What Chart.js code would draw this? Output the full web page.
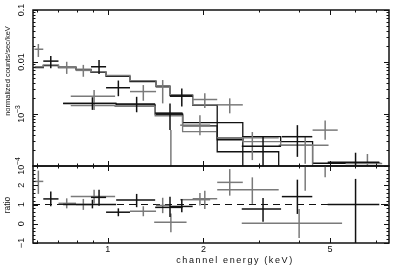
<!DOCTYPE html>
<html>
<head>
<meta charset="utf-8">
<script src="https://cdn.jsdelivr.net/npm/chart.js@4.4.0/dist/chart.umd.min.js"></script>
<style>
  html, body { margin: 0; padding: 0; background: #fff; }
  #wrap { position: relative; width: 399px; height: 271px; }
  #wrap canvas { position: absolute; left: 0; top: 0; }
</style>
</head>
<body>
<div id="wrap">
  <canvas id="spec" width="399" height="271"></canvas>
  <canvas id="ratio" width="399" height="271"></canvas>
</div>
<script>
// axis ticks and labels
const energyTicks = [1, 2, 5];
const energyMinor = [0.6, 0.7, 0.8, 0.9, 3, 4, 6, 7];
const rateTicks = [0.1, 0.01, 1e-3, 1e-4];
const rateTickText = ['0.1', '0.01', '10', '10'];
const rateTickSup = ['', '', '\u22123', '\u22124'];
const ratioTicks = [-1, 0, 1, 2];
const ratioTickText = ['\u22121', '0', '1', '2'];

// dark data group
const blkE      = [0.662, 0.895, 0.939, 1.08, 1.233, 1.57, 1.71, 3.08, 3.95, 6.02];
const blkELo    = [0.627, 0.724, 0.886, 0.988, 1.063, 1.41, 1.57, 2.64, 3.53, 4.92];
const blkEHi    = [0.70, 1.063, 0.988, 1.175, 1.41, 1.72, 1.85, 3.51, 4.4, 7.15];
const blkRate   = [0.0104, 0.0016, 0.0081, 0.0032, 0.00156, 0.00104, 0.0022, 0.00024, 0.000366, 0.000118];
const blkRateLo = [0.0076, 0.0012, 0.0059, 0.0022, 0.00108, 0.00049, 0.0014, 0.00009, 0.00015, 0.00005];
const blkRateHi = [0.013, 0.0021, 0.0109, 0.0044, 0.00214, 0.0016, 0.0031, 0.00036, 0.00061, 0.00018];
const blkRatio   = [1.29, 1.0, 1.37, 0.6, 1.24, 0.85, 0.9, 0.77, 1.41, 1.0];
const blkRatioLo = [0.91, 0.8, 0.94, 0.39, 0.86, 0.35, 0.6, 0.11, 0.51, -1.5];
const blkRatioHi = [1.67, 1.25, 1.77, 0.8, 1.55, 1.4, 1.29, 1.34, 2.29, 2.33];

// grey data group
const gryE      = [0.605, 0.743, 0.838, 0.906, 1.294, 1.489, 1.58, 1.95, 2.02, 2.42, 2.85, 4.0, 4.18, 4.83, 6.56];
const gryELo    = [0.588, 0.70, 0.795, 0.765, 1.175, 1.419, 1.40, 1.69, 1.85, 2.21, 2.21, 2.64, 3.45, 4.41, 5.6];
const gryEHi    = [0.627, 0.795, 0.886, 1.055, 1.419, 1.57, 1.77, 2.10, 2.21, 2.66, 3.45, 5.46, 4.95, 5.29, 7.3];
const gryRate   = [0.0176, 0.0079, 0.0069, 0.0022, 0.0027, 0.0033, 0.00007, 0.00061, 0.0019, 0.0015, 0.00035, 0.000008, 0.00025, 0.00049, 0.000112];
const gryRateLo = [0.0125, 0.0059, 0.0052, 0.0012, 0.0018, 0.0016, 0.000001, 0.00039, 0.0013, 0.00103, 0.00013, 0.000001, 0.00011, 0.00032, 0.00005];
const gryRateHi = [0.0222, 0.0101, 0.0088, 0.0029, 0.0036, 0.0045, 0.00049, 0.00095, 0.0025, 0.002, 0.00045, 0.00002, 0.000366, 0.00075, 0.00017];
const gryRatio   = [2.2, 1.06, 1.0, 1.42, 0.65, 0.95, 0.08, 1.25, 1.3, 2.15, 1.76, 0.03, 4.5, 5.5, null];
const gryRatioLo = [1.55, 0.80, 0.72, 1.05, 0.39, 0.55, -0.44, 0.95, 0.77, 1.46, 1.03, -0.74, 1.72, 2.41, null];
const gryRatioHi = [2.76, 1.32, 1.29, 1.77, 0.91, 1.35, 0.53, 1.6, 1.72, 2.84, 2.41, 0.76, 7, 8, null];

// folded models (bin edges, value per bin)
const mod1Edges = [0.588, 0.627, 0.70, 0.795, 0.886, 0.988, 1.175, 1.419, 1.57, 1.85, 2.21, 3.45, 7.4];
const mod1Vals  = [0.0078, 0.0085, 0.0078, 0.0071, 0.0063, 0.0053, 0.0042, 0.00335, 0.00225, 0.00149, 0.000188, 0.000001];
const mod2Edges = [0.588, 0.627, 0.70, 0.795, 0.886, 0.988, 1.175, 1.419, 1.57, 1.85, 2.21];
const mod2Vals  = [0.0081, 0.0088, 0.0081, 0.0073, 0.0065, 0.0055, 0.0044, 0.0035, 0.00235, 0.00152];
const mod3Edges = [0.724, 1.063, 1.41, 1.72, 2.21, 2.66, 3.5, 4.41, 7.2];
const mod3Vals  = [0.0016, 0.0015, 0.001, 0.00059, 0.00032, 0.000366, 0.000293, 0.000113];
const mod4Edges = [0.765, 1.055, 1.41, 1.72, 2.21, 2.66, 3.5, 4.41, 7.2];
const mod4Vals  = [0.00145, 0.0014, 0.00092, 0.00046, 0.00034, 0.000293, 0.000253, 0.0001];
const mod5Edges = [1.41, 1.72, 2.66, 3.0];
const mod5Vals  = [0.00096, 0.00068, 0.000001];

const ratioRef = 1;

const X_MIN = 0.582, X_MAX = 7.67;
const FONT = '"Liberation Sans", Arial, Helvetica, sans-serif';
const BLACK = '#111', GREY = '#7a7a7a';

function line(ctx, x1, y1, x2, y2) {
    ctx.beginPath();
    ctx.moveTo(x1, y1);
    ctx.lineTo(x2, y2);
    ctx.stroke();
}

function stepSet(edges, vals, color) {
    const pts = vals.map((v, i) => ({ x: edges[i], y: v }));
    pts.push({ x: edges[edges.length - 1], y: vals[vals.length - 1] });
    return { data: pts, showLine: true, stepped: true, borderColor: color, borderWidth: 1.3, pointRadius: 0 };
}

function crossSet(e, eLo, eHi, v, vLo, vHi, color) {
    return {
        data: e.map((x, i) => ({ x: x, y: v[i] })),
        xLo: eLo, xHi: eHi, yLo: vLo, yHi: vHi,
        borderColor: color, pointRadius: 0, showLine: false
    };
}

// crosses drawn through the chart scales
const errorBars = {
    id: 'errorBars',
    afterDatasetsDraw(chart) {
        const { ctx, chartArea: a, scales: { x, y } } = chart;
        ctx.save();
        ctx.beginPath();
        ctx.rect(a.left, a.top, a.right - a.left, a.bottom - a.top);
        ctx.clip();
        chart.data.datasets.forEach(ds => {
            if (!ds.xLo) return;
            ctx.strokeStyle = ds.borderColor;
            ctx.lineWidth = 1.5;
            ds.data.forEach((p, i) => {
                if (p.y == null) return;
                const px = x.getPixelForValue(p.x), py = y.getPixelForValue(p.y);
                line(ctx, x.getPixelForValue(ds.xLo[i]), py, x.getPixelForValue(ds.xHi[i]), py);
                line(ctx, px, y.getPixelForValue(ds.yLo[i]), px, y.getPixelForValue(ds.yHi[i]));
            });
        });
        ctx.restore();
    }
};

function vText(ctx, text, x, y, size, sup) {
    ctx.save();
    ctx.translate(x, y);
    ctx.rotate(-Math.PI / 2);
    ctx.textBaseline = 'middle';
    ctx.textAlign = 'left';
    ctx.font = size + 'px ' + FONT;
    const w1 = ctx.measureText(text).width;
    let w2 = 0;
    if (sup) {
        ctx.font = (size * 0.75) + 'px ' + FONT;
        w2 = ctx.measureText(sup).width;
    }
    const x0 = -(w1 + w2) / 2;
    ctx.font = size + 'px ' + FONT;
    ctx.fillText(text, x0, 0);
    if (sup) {
        ctx.font = (size * 0.75) + 'px ' + FONT;
        ctx.fillText(sup, x0 + w1, -size * 0.45);
    }
    ctx.restore();
}

// box, inward ticks and texts
const frame = {
    id: 'frame',
    afterDraw(chart, args, o) {
        const { ctx, chartArea: a, scales: { x, y } } = chart;
        ctx.save();
        ctx.strokeStyle = BLACK;
        ctx.fillStyle = BLACK;
        ctx.lineWidth = 1.5;
        ctx.strokeRect(a.left, a.top, a.right - a.left, a.bottom - a.top);
        ctx.lineWidth = 1;
        const xt = (list, len) => list.forEach(v => {
            const px = Math.round(x.getPixelForValue(v)) + 0.5;
            line(ctx, px, a.top, px, a.top + len);
            line(ctx, px, a.bottom, px, a.bottom - len);
        });
        const yt = (list, len) => list.forEach(v => {
            const py = Math.round(y.getPixelForValue(v)) + 0.5;
            line(ctx, a.left, py, a.left + len, py);
            line(ctx, a.right, py, a.right - len, py);
        });
        xt(energyTicks, 5);
        xt(energyMinor, 2.5);
        yt(o.yMajor, 5);
        yt(o.yMinor, 2.5);
        o.yText.forEach((t, i) => {
            vText(ctx, t, 22, y.getPixelForValue(o.yMajor[i]), 9, o.ySup ? o.ySup[i] : '');
        });
        vText(ctx, o.title, 8, o.titleY, o.titleSize, '');
        if (o.xLabels) {
            ctx.font = '9px ' + FONT;
            ctx.textAlign = 'center';
            ctx.textBaseline = 'middle';
            energyTicks.forEach(v => ctx.fillText(String(v), x.getPixelForValue(v), 250));
            ctx.letterSpacing = '1.6px';
            ctx.fillText('channel energy (keV)', 235, 261);
        }
        ctx.restore();
    }
};

const rateMinor = [];
[1e-4, 1e-3, 1e-2].forEach(d => { for (let k = 2; k <= 9; k++) rateMinor.push(d * k); });
const ratioMinor = [];
for (let k = -5; k <= 15; k++) ratioMinor.push(k / 5);

new Chart(document.getElementById('spec'), {
    type: 'scatter',
    data: {
        datasets: [
            stepSet(mod2Edges, mod2Vals, GREY),
            stepSet(mod1Edges, mod1Vals, BLACK),
            stepSet(mod4Edges, mod4Vals, GREY),
            stepSet(mod3Edges, mod3Vals, BLACK),
            stepSet(mod5Edges, mod5Vals, BLACK),
            crossSet(gryE, gryELo, gryEHi, gryRate, gryRateLo, gryRateHi, GREY),
            crossSet(blkE, blkELo, blkEHi, blkRate, blkRateLo, blkRateHi, BLACK)
        ]
    },
    options: {
        responsive: false,
        animation: false,
        devicePixelRatio: 1,
        layout: { padding: { left: 33, right: 10, top: 10, bottom: 105 } },
        plugins: {
            legend: { display: false },
            tooltip: { enabled: false },
            frame: {
                yMajor: rateTicks, yMinor: rateMinor, yText: rateTickText, ySup: rateTickSup,
                title: 'normalized counts/sec/keV', titleY: 71, titleSize: 7.5
            }
        },
        scales: {
            x: { type: 'logarithmic', min: X_MIN, max: X_MAX, display: false },
            y: { type: 'logarithmic', min: 1e-4, max: 0.1, display: false }
        }
    },
    plugins: [errorBars, frame]
});

new Chart(document.getElementById('ratio'), {
    type: 'scatter',
    data: {
        datasets: [
            {
                data: [{ x: X_MIN, y: ratioRef }, { x: X_MAX, y: ratioRef }],
                showLine: true, borderColor: BLACK, borderWidth: 1.2, borderDash: [7, 5], pointRadius: 0
            },
            crossSet(gryE, gryELo, gryEHi, gryRatio, gryRatioLo, gryRatioHi, GREY),
            crossSet(blkE, blkELo, blkEHi, blkRatio, blkRatioLo, blkRatioHi, BLACK)
        ]
    },
    options: {
        responsive: false,
        animation: false,
        devicePixelRatio: 1,
        layout: { padding: { left: 33, right: 10, top: 166, bottom: 28 } },
        plugins: {
            legend: { display: false },
            tooltip: { enabled: false },
            frame: {
                yMajor: ratioTicks, yMinor: ratioMinor, yText: ratioTickText,
                title: 'ratio', titleY: 205, titleSize: 8.5, xLabels: true
            }
        },
        scales: {
            x: { type: 'logarithmic', min: X_MIN, max: X_MAX, display: false },
            y: { type: 'linear', min: -1, max: 3, display: false }
        }
    },
    plugins: [errorBars, frame]
});
</script>
</body>
</html>
